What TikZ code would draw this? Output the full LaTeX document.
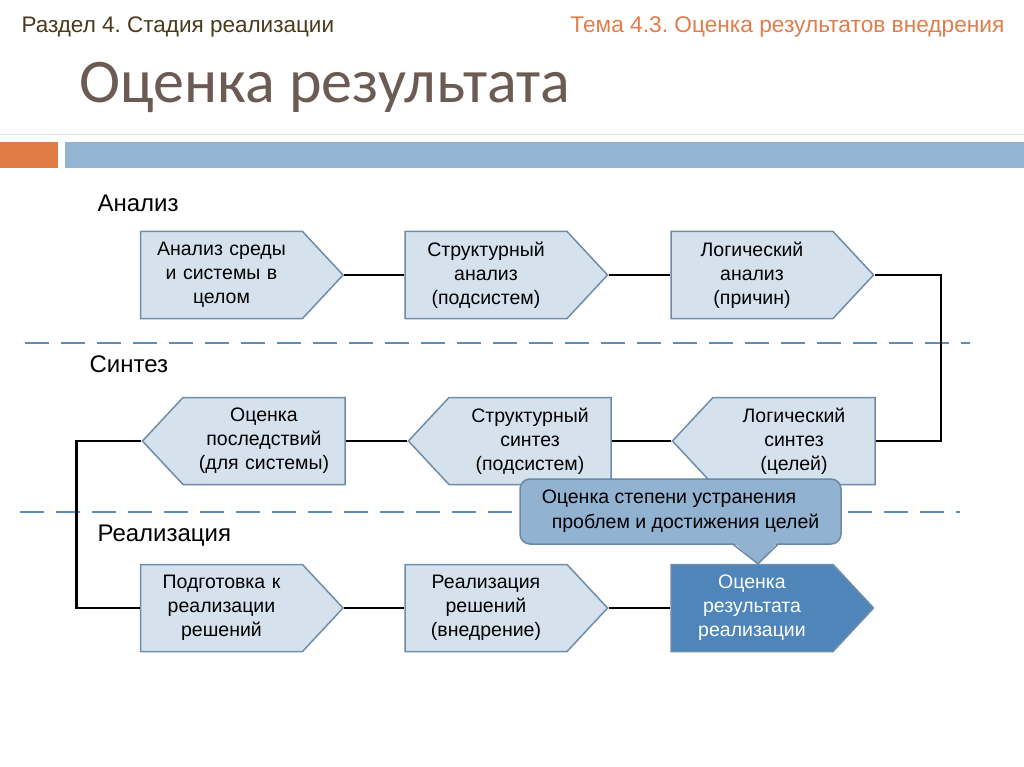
\documentclass[tikz,border=0pt]{standalone}
\usepackage{fontspec}
\setmainfont{Liberation Sans}
\newfontfamily\titlefont{Carlito}
\usetikzlibrary{shapes.symbols,positioning}
\frenchspacing

\definecolor{boxfill}{HTML}{D5E2EE}
\definecolor{boxline}{HTML}{6F8CA8}
\definecolor{darkbox}{HTML}{4F85B9}
\definecolor{notefill}{HTML}{92B2D1}
\definecolor{noteline}{HTML}{6A89A6}
\definecolor{bandblue}{HTML}{5B8EBD}
\definecolor{barblue}{HTML}{94B4D3}
\definecolor{barorange}{HTML}{E07B45}
\definecolor{headbrown}{HTML}{4A3B1C}
\definecolor{headorange}{HTML}{E07D4C}
\definecolor{titlegray}{HTML}{6B5B53}

\tikzset{
  stage/.style={signal, signal pointer angle=94, draw=boxline, fill=boxfill,
    line width=1.5pt, text width=144pt, align=center, inner xsep=9pt,
    inner ysep=0pt, minimum height=87pt, font=\fontsize{19.5}{24}\selectfont},
  fwd/.style={stage, signal to=east},
  back/.style={stage, signal to=west},
  link/.style={line width=2.2pt},
  band/.style={draw=bandblue, line width=2pt, dash pattern=on 24pt off 12pt},
  lab/.style={anchor=base west, font=\fontsize{24}{28}\selectfont},
  note/.style={draw=noteline, fill=notefill, line width=1.5pt, rounded corners=10pt,
    minimum width=321pt, minimum height=65pt, align=left,
    font=\fontsize{19.5}{25}\selectfont},
}

\begin{document}
\begin{tikzpicture}[x=1pt,y=-1pt]
  \useasboundingbox[fill=white] (0,0) rectangle (1024,767);

  % header
  \node[anchor=base west, text=headbrown, font=\fontsize{22.5}{26}\selectfont] (part) at (18,33) {Раздел 4. Стадия реализации};
  \node[anchor=base east, text=headorange, font=\fontsize{22.7}{26}\selectfont] (topic) at (1008,33) {Тема 4.3. Оценка результатов внедрения};
  \node[anchor=base west, text=titlegray, font=\titlefont\fontsize{62}{70}\selectfont] (title) at (76,103) {Оценка результата};
  \draw[black!12, line width=1pt] (0,135) -- (1024,135);
  \fill[barorange] (0,142) rectangle (58,168);
  \fill[barblue] (65,142) rectangle (1024,168);

  % separators
  \draw[band] (25,343) -- (970,343);
  \draw[band] (20,512) -- (960,512);

  % section labels
  \node[lab] (lanaliz) at (94,212) {Анализ};
  \node[lab] (lsintez) at (86,372) {Синтез};
  \node[lab] (lreal) at (94,541) {Реализация};

  % analysis row
  \node[fwd] (a1) at (221.5,275) {Анализ среды\\и системы в\\целом};
  \node[fwd] (a2) at (486,275) {Структурный\\анализ\\(подсистем)};
  \node[fwd] (a3) at (752,275) {Логический\\анализ\\(причин)};

  % synthesis row
  \node[back] (s1) at (264,441) {Оценка\\последствий\\(для системы)};
  \node[back] (s2) at (530,441) {Структурный\\синтез\\(подсистем)};
  \node[back] (s3) at (794,441) {Логический\\синтез\\(целей)};

  % realisation row
  \node[fwd] (r1) at (221.5,608) {Подготовка к\\реализации\\решений};
  \node[fwd] (r2) at (486,608) {Реализация\\решений\\(внедрение)};
  \node[fwd, fill=darkbox, draw=boxline, text=white] (r3) at (752,608) {Оценка\\результата\\реализации};

  % connectors
  \draw[link] (a1.east) -- (a2.west);
  \draw[link] (a2.east) -- (a3.west);
  \draw[link] (a3.east) -- ++(66,0) |- (s3.east);
  \draw[link] (s3.west) -- (s2.east);
  \draw[link] (s2.west) -- (s1.east);
  \draw[link] (s1.west) -- ++(-65,0) |- (r1.west);
  \draw[link] (r1.east) -- (r2.west);
  \draw[link] (r2.east) -- (r3.west);

  % callout
  \node[note] (goal) at (680.5,511.5) {Оценка степени устранения\\\hspace*{10pt}проблем и достижения целей};
  \fill[notefill] ([shift={(53,-2)}]goal.south) -- ([xshift=6]r3.north) -- ([shift={(97,-2)}]goal.south) -- cycle;
  \draw[noteline, line width=1.5pt, line join=round] ([xshift=53]goal.south) -- ([xshift=6]r3.north) -- ([xshift=97]goal.south);
\end{tikzpicture}
\end{document}
